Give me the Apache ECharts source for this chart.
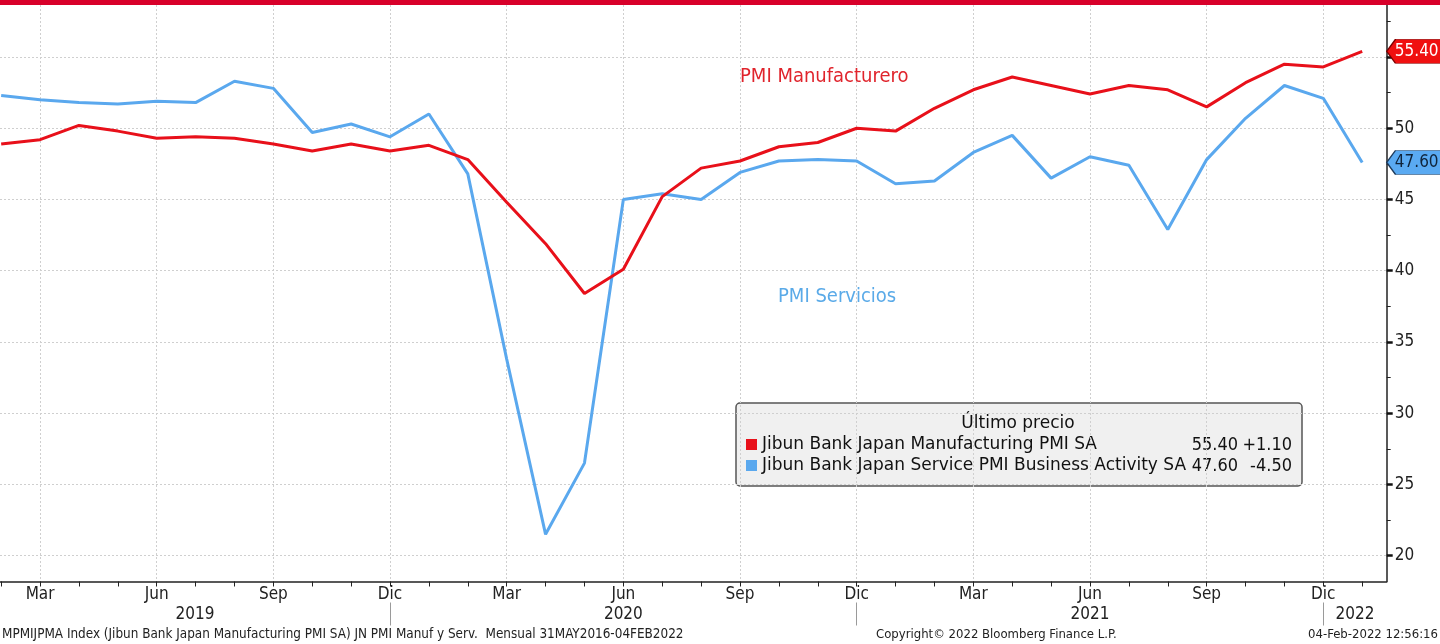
<!DOCTYPE html>
<html>
<head>
<meta charset="utf-8">
<script src="https://cdn.jsdelivr.net/npm/echarts@6/dist/echarts.min.js"></script>
<style>
html,body{margin:0;padding:0;background:#fff;}
#chart{width:1440px;height:644px;}
</style>
</head>
<body>
<div id="chart"></div>
<script>
// ---- data ----
const months = ['2019-02','2019-03','2019-04','2019-05','2019-06','2019-07','2019-08','2019-09','2019-10','2019-11','2019-12',
  '2020-01','2020-02','2020-03','2020-04','2020-05','2020-06','2020-07','2020-08','2020-09','2020-10','2020-11','2020-12',
  '2021-01','2021-02','2021-03','2021-04','2021-05','2021-06','2021-07','2021-08','2021-09','2021-10','2021-11','2021-12',
  '2022-01'];
const manufacturingPMI = [48.9,49.2,50.2,49.8,49.3,49.4,49.3,48.9,48.4,48.9,48.4,
  48.8,47.8,44.8,41.9,38.4,40.1,45.2,47.2,47.7,48.7,49.0,50.0,
  49.8,51.4,52.7,53.6,53.0,52.4,53.0,52.7,51.5,53.2,54.5,54.3,
  55.4];
const servicesPMI = [52.3,52.0,51.8,51.7,51.9,51.8,53.3,52.8,49.7,50.3,49.4,
  51.0,46.8,33.8,21.5,26.5,45.0,45.4,45.0,46.9,47.7,47.8,47.7,
  46.1,46.3,48.3,49.5,46.5,48.0,47.4,42.9,47.8,50.7,53.0,52.1,
  47.6];
const seriesNames = ['Jibun Bank Japan Manufacturing PMI SA','Jibun Bank Japan Service PMI Business Activity SA'];
const annotations = ['PMI Manufacturero','PMI Servicios'];
const monthNamesEs = ['Ene','Feb','Mar','Abr','May','Jun','Jul','Ago','Sep','Oct','Nov','Dic'];
const yTickValues = [20,25,30,35,40,45,50,55];
const yLabelValues = [20,25,30,35,40,45,50];
const yMinorValues = [22.5,27.5,32.5,37.5,42.5,47.5,52.5,57.5];
const legendTitle = 'Último precio';
const footerLeft = 'MPMIJPMA Index (Jibun Bank Japan Manufacturing PMI SA) JN PMI Manuf y Serv.  Mensual 31MAY2016-04FEB2022';
const footerCenter = 'Copyright\u00A9 2022 Bloomberg Finance L.P.';
const footerRight = '04-Feb-2022 12:56:16';

// ---- derived ----
const RED = '#e8101a', BLUE = '#5aa8ee';
const FONT = '"DejaVu Sans Condensed","DejaVu Sans",sans-serif';
const LFONT = '"DejaVu Sans",sans-serif';
const XMIN = -0.03, XMAX = 35.63, YMIN = 18.19, YMAX = 58.65;
const monthNum = m => parseInt(m.split('-')[1], 10);
const allIdx = months.map((m, i) => i);
const quarterIdx = allIdx.filter(i => monthNum(months[i]) % 3 === 0);
const decIdx = allIdx.filter(i => monthNum(months[i]) === 12);
const yearsList = [];
months.forEach(m => { const y = m.split('-')[0]; if (!yearsList.includes(y)) yearsList.push(y); });
const bounds = [XMIN].concat(decIdx).concat([XMAX]);
const yearCenters = yearsList.map((y, k) => (bounds[k] + bounds[k + 1]) / 2);
const mData = manufacturingPMI.map((v, i) => [i, v]);
const sData = servicesPMI.map((v, i) => [i, v]);
const last = a => a[a.length - 1];
const chg = a => a[a.length - 1] - a[a.length - 2];
const fmtChg = d => (d >= 0 ? '+' : '') + d.toFixed(2);

function tag(color, border, textColor, value) {
  return {
    symbol: 'path://M0,12 L9,0 L64,0 L64,24 L9,24 Z',
    symbolSize: [62, 24],
    symbolOffset: [31, 0],
    silent: true,
    itemStyle: { color: color, borderColor: border, borderWidth: 1 },
    label: { show: true, position: 'inside', offset: [-1, 0], color: textColor, fontFamily: FONT, fontSize: 17,
      formatter: p => p.value.toFixed(2) },
    data: [{ coord: [XMAX, value], value: value }]
  };
}

const chart = echarts.init(document.getElementById('chart'), null, { renderer: 'canvas' });
const gridLine = { show: true, lineStyle: { color: '#cfcfcf', width: 1, type: [2, 2] } };
const rowText = (x, y, t, align, font) => ({ type: 'text', x: x, y: y,
  style: { text: t, fill: '#111', font: font, textAlign: align, textVerticalAlign: 'middle' } });

chart.setOption({
  animation: false,
  backgroundColor: '#ffffff',
  grid: { left: 0, right: 53.3, top: 5, bottom: 62.5, containLabel: false },
  xAxis: [
    { type: 'value', min: XMIN, max: XMAX, position: 'bottom',
      axisLine: { show: true, onZero: false, lineStyle: { color: '#222', width: 1.5 } },
      axisTick: { show: false, customValues: quarterIdx },
      axisLabel: { customValues: quarterIdx, margin: 5, color: '#222', fontFamily: FONT, fontSize: 17,
        formatter: v => monthNamesEs[monthNum(months[Math.round(v)]) - 1] },
      splitLine: gridLine },
    { type: 'value', min: XMIN, max: XMAX, position: 'bottom',
      axisLine: { show: false, onZero: false },
      axisTick: { show: true, customValues: allIdx, length: 5, lineStyle: { color: '#222', width: 1 } },
      axisLabel: { show: false }, splitLine: { show: false } },
    { type: 'value', min: XMIN, max: XMAX, position: 'bottom', offset: 21,
      axisLine: { show: false, onZero: false },
      axisTick: { show: true, customValues: decIdx, length: 23, lineStyle: { color: '#9a9a9a', width: 1 } },
      axisLabel: { customValues: yearCenters, margin: 4, color: '#222', fontFamily: FONT, fontSize: 17,
        formatter: v => { let k = 0, best = 1e9; yearCenters.forEach((c, j) => { if (Math.abs(c - v) < best) { best = Math.abs(c - v); k = j; } }); return yearsList[k]; } },
      splitLine: { show: false } }
  ],
  yAxis: [
    { type: 'value', min: YMIN, max: YMAX, position: 'right',
      axisLine: { show: true, onZero: false, lineStyle: { color: '#222', width: 1.5 } },
      axisTick: { show: true, customValues: yTickValues, length: 6, lineStyle: { color: '#111', width: 2.5 } },
      axisLabel: { customValues: yLabelValues, margin: 8, color: '#222', fontFamily: FONT, fontSize: 17 },
      splitLine: gridLine },
    { type: 'value', min: YMIN, max: YMAX, position: 'right', offset: 0,
      axisLine: { show: false, onZero: false },
      axisTick: { show: true, customValues: yMinorValues, length: 4, lineStyle: { color: '#222', width: 1 } },
      axisLabel: { show: false }, splitLine: { show: false } }
  ],
  series: [
    { name: seriesNames[0], type: 'line', data: mData, xAxisIndex: 0, yAxisIndex: 0,
      showSymbol: false, lineStyle: { color: RED, width: 3 }, itemStyle: { color: RED }, z: 3,
      markPoint: tag('#f01010', '#7a0000', '#ffffff', last(manufacturingPMI)) },
    { name: seriesNames[1], type: 'line', data: sData, xAxisIndex: 0, yAxisIndex: 0,
      showSymbol: false, lineStyle: { color: BLUE, width: 3 }, itemStyle: { color: BLUE }, z: 2,
      markPoint: tag('#5aaaf2', '#1e3a5a', '#10243a', last(servicesPMI)) }
  ],
  graphic: [
    { type: 'rect', shape: { x: 0, y: 0, width: 1440, height: 5 }, style: { fill: '#d8002a' }, z: 100 },
    { type: 'text', x: 740, y: 77, style: { text: annotations[0], fill: '#e0242c', font: '20px ' + FONT, textVerticalAlign: 'middle' }, z: 50 },
    { type: 'text', x: 778, y: 297, style: { text: annotations[1], fill: '#5aaae8', font: '20px ' + FONT, textVerticalAlign: 'middle' }, z: 50 },
    { type: 'group', x: 736, y: 403, z: 60, children: [
      { type: 'rect', shape: { x: 0, y: 0, width: 566, height: 83, r: 4 }, style: { fill: '#f0f0f0', stroke: '#555', lineWidth: 1.5 } },
      rowText(282, 21, legendTitle, 'center', '17px ' + LFONT),
      { type: 'rect', shape: { x: 10, y: 36, width: 11, height: 11 }, style: { fill: RED } },
      { type: 'rect', shape: { x: 10, y: 57, width: 11, height: 11 }, style: { fill: BLUE } },
      rowText(26, 42, seriesNames[0], 'left', '17px ' + LFONT),
      rowText(26, 63, seriesNames[1], 'left', '17px ' + LFONT),
      rowText(502, 42, last(manufacturingPMI).toFixed(2), 'right', '18px ' + FONT),
      rowText(502, 63, last(servicesPMI).toFixed(2), 'right', '18px ' + FONT),
      rowText(556, 42, fmtChg(chg(manufacturingPMI)), 'right', '18px ' + FONT),
      rowText(556, 63, fmtChg(chg(servicesPMI)), 'right', '18px ' + FONT)
    ]},
    { type: 'text', x: 2, y: 635, style: { text: footerLeft, fill: '#222', font: '13.4px ' + FONT, textVerticalAlign: 'middle' }, z: 50 },
    { type: 'text', x: 876, y: 635, style: { text: footerCenter, fill: '#222', font: '13px ' + FONT, textVerticalAlign: 'middle' }, z: 50 },
    { type: 'text', x: 1438, y: 635, style: { text: footerRight, fill: '#222', font: '13px ' + FONT, textAlign: 'right', textVerticalAlign: 'middle' }, z: 50 }
  ]
});
</script>
</body>
</html>
